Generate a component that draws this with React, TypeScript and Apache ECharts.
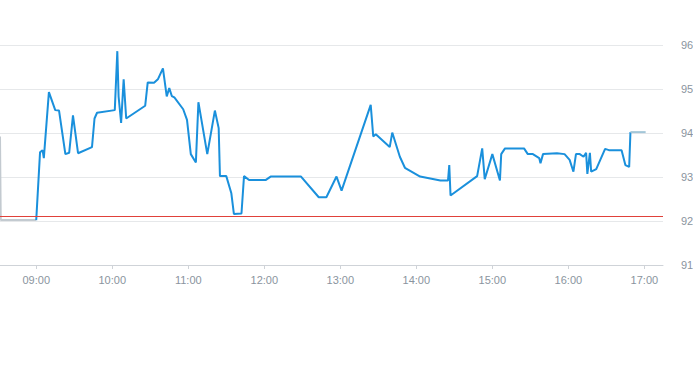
import React, { useEffect, useRef } from "react";
import * as echarts from "echarts";

const DAY = "2024-01-02 ";

const preTimes = ["08:31:24", "08:32:00", "09:00:00"];
const preValues = [93.92, 92.02, 92.02];

const mainTimes = [
  "09:00", "09:03", "09:05", "09:06", "09:10", "09:15", "09:18", "09:23", "09:26", "09:29",
  "09:33", "09:44", "09:46", "09:48", "10:02", "10:04", "10:05", "10:07", "10:09", "10:11",
  "10:26", "10:28", "10:33", "10:36", "10:40", "10:43", "10:45", "10:47", "10:49", "10:56",
  "10:59", "11:02", "11:06", "11:08", "11:15", "11:21", "11:24", "11:25", "11:30", "11:34",
  "11:36", "11:42", "11:44", "11:48", "12:01", "12:05", "12:29", "12:43", "12:49", "12:57",
  "13:01", "13:24", "13:26", "13:28", "13:39", "13:41", "13:47", "13:51", "14:03", "14:19",
  "14:25", "14:26", "14:27", "14:48", "14:52", "14:54", "15:00", "15:06", "15:07", "15:10",
  "15:25", "15:28", "15:32", "15:37", "15:38", "15:40", "15:51", "15:57", "16:01", "16:04",
  "16:06", "16:09", "16:12", "16:14", "16:15", "16:17", "16:18", "16:22", "16:29", "16:32",
  "16:42", "16:45", "16:48", "16:49",
];
const mainValues = [
  92.02, 93.56, 93.61, 93.43, 94.93, 94.52, 94.51, 93.52, 93.55, 94.4,
  93.54, 93.68, 94.33, 94.46, 94.52, 95.86, 94.83, 94.23, 95.22, 94.33,
  94.62, 95.15, 95.14, 95.22, 95.47, 94.83, 95.02, 94.84, 94.81, 94.54,
  94.3, 93.52, 93.33, 94.7, 93.52, 94.51, 94.11, 93.02, 93.02, 92.63,
  92.16, 92.17, 93.02, 92.93, 92.93, 93.01, 93.01, 92.54, 92.54, 93.01,
  92.69, 94.64, 93.92, 93.97, 93.68, 94.01, 93.46, 93.21, 93.01, 92.92,
  92.92, 93.27, 92.58, 93.02, 93.65, 92.95, 93.52, 92.92, 93.52, 93.65,
  93.65, 93.52, 93.52, 93.43, 93.31, 93.52, 93.54, 93.52, 93.39, 93.12,
  93.52, 93.52, 93.46, 93.55, 93.07, 93.55, 93.12, 93.18, 93.64, 93.61,
  93.61, 93.27, 93.23, 94.02,
];

const postTimes = ["16:49", "17:01"];
const postValues = [94.02, 94.02];

const referenceLevel = 92.11;
const yTicks = [91, 92, 93, 94, 95, 96];

const axisMin = DAY + "08:31:24";
const axisMax = DAY + "17:14:42";

const toPairs = (times: string[], values: number[]) =>
  times.map((t, i) => [DAY + t, values[i]]);

export default function App() {
  const ref = useRef<HTMLDivElement>(null);
  useEffect(() => {
    if (!ref.current) return;
    const chart = echarts.init(ref.current, null, { renderer: "svg" });
    chart.setOption({
      animation: false,
      grid: { left: 0, right: 30, top: 45, bottom: 100, containLabel: false, outerBoundsMode: "none" },
      xAxis: {
        type: "time",
        min: axisMin,
        max: axisMax,
        minInterval: 3600 * 1000,
        maxInterval: 3600 * 1000,
        axisLine: { show: true, lineStyle: { color: "#cfd3d8", width: 1 } },
        axisTick: { show: true, length: 4, lineStyle: { color: "#cfd3d8" } },
        axisLabel: {
          formatter: "{HH}:{mm}",
          color: "#8a949e",
          fontSize: 11,
          margin: 9,
          showMinLabel: false,
          showMaxLabel: false,
          fontFamily: "Liberation Sans, Arial, sans-serif",
        },
        splitLine: { show: false },
      },
      yAxis: {
        type: "value",
        position: "right",
        min: yTicks[0],
        max: yTicks[yTicks.length - 1],
        interval: 1,
        axisLine: { show: false },
        axisTick: { show: false },
        axisLabel: {
          color: "#8a949e",
          fontSize: 11,
          margin: 18,
          fontFamily: "Liberation Sans, Arial, sans-serif",
        },
        splitLine: { lineStyle: { color: "#e6e8ea", width: 1 } },
      },
      series: [
        {
          type: "line",
          data: toPairs(preTimes, preValues),
          symbol: "none",
          lineStyle: { color: "#c3cad0", width: 2 },
        },
        {
          type: "line",
          data: toPairs(mainTimes, mainValues),
          symbol: "none",
          lineStyle: { color: "#1a90dc", width: 2 },
          markLine: {
            silent: true,
            symbol: "none",
            label: { show: false },
            lineStyle: { color: "#e0413a", width: 1, type: "solid" },
            data: [{ yAxis: referenceLevel }],
          },
        },
        {
          type: "line",
          data: toPairs(postTimes, postValues),
          symbol: "none",
          lineStyle: { color: "#a3c6d8", width: 2 },
        },
      ],
    });
    return () => chart.dispose();
  }, []);
  return <div ref={ref} style={{ width: 693, height: 365, position: "absolute", left: 0, top: 0 }} />;
}
